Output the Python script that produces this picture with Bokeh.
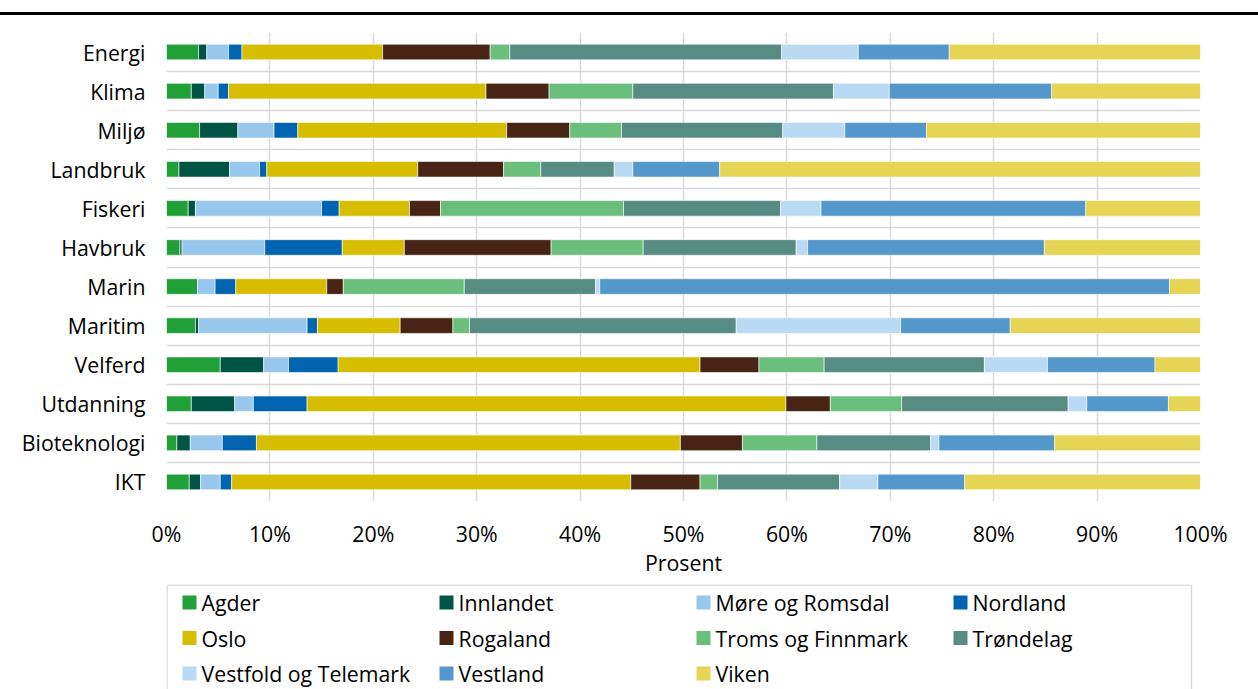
from bokeh.plotting import figure
from bokeh.models import ColumnDataSource, FixedTicker, Range1d, Div
from bokeh.layouts import column
from bokeh.core.properties import value
from bokeh.embed import file_html
from bokeh.resources import INLINE

categories = ["Energi", "Klima", "Miljø", "Landbruk", "Fiskeri", "Havbruk",
              "Marin", "Maritim", "Velferd", "Utdanning", "Bioteknologi", "IKT"]

regions = ["Agder", "Innlandet", "Møre og Romsdal", "Nordland", "Oslo", "Rogaland",
           "Troms og Finnmark", "Trøndelag", "Vestfold og Telemark", "Vestland", "Viken"]

colors = ["#21a038", "#005444", "#97c7ec", "#0064b0", "#d7bd00", "#482414",
          "#6bbf7d", "#568c82", "#b9daf2", "#5497cb", "#e6d454"]

# Share (%) per region, one list per category row
agder     = [3.1, 2.4, 3.2, 1.2, 2.1, 1.3, 3.0, 2.8, 5.2, 2.4, 1.0, 2.2]
innlandet = [0.8, 1.3, 3.7, 4.9, 0.7, 0.2, 0.0, 0.3, 4.2, 4.2, 1.3, 1.1]
more      = [2.1, 1.3, 3.5, 2.9, 12.2, 8.0, 1.7, 10.5, 2.4, 1.8, 3.1, 1.9]
nordland  = [1.3, 1.0, 2.3, 0.7, 1.7, 7.5, 2.0, 1.0, 4.8, 5.2, 3.3, 1.1]
oslo      = [13.6, 24.9, 20.2, 14.6, 6.8, 6.0, 8.8, 8.0, 35.0, 46.3, 41.0, 38.6]
rogaland  = [10.4, 6.1, 6.1, 8.3, 3.0, 14.2, 1.6, 5.1, 5.7, 4.3, 6.0, 6.7]
troms     = [1.9, 8.1, 5.0, 3.6, 17.7, 8.9, 11.7, 1.6, 6.3, 6.9, 7.2, 1.7]
trondelag = [26.3, 19.4, 15.6, 7.1, 15.2, 14.8, 12.7, 25.8, 15.5, 16.1, 11.0, 11.8]
vestfold  = [7.4, 5.4, 6.0, 1.8, 3.9, 1.1, 0.4, 15.9, 6.1, 1.8, 0.8, 3.7]
vestland  = [8.8, 15.7, 7.9, 8.4, 25.6, 22.9, 55.1, 10.6, 10.4, 7.9, 11.2, 8.4]
viken     = [24.3, 14.4, 26.5, 46.5, 11.1, 15.1, 3.0, 18.4, 4.4, 3.1, 14.1, 22.8]

x_ticks = [0, 10, 20, 30, 40, 50, 60, 70, 80, 90, 100]
x_tick_labels = ["0%", "10%", "20%", "30%", "40%", "50%", "60%", "70%", "80%", "90%", "100%"]

series = [agder, innlandet, more, nordland, oslo, rogaland, troms, trondelag, vestfold, vestland, viken]
data = {"y": list(range(len(categories)))}
for r, s in zip(regions, series):
    data[r] = s
source = ColumnDataSource(data)

FONT = "Open Sans"
FS = "21.3px"
BORDER_L, BORDER_R = 166, 58

# thick rule under the (cropped) figure title
rule = Div(text="", width=1258, height=3, margin=(12, 0, 0, 0),
           styles={"background-color": "black"})

p = figure(width=1258, height=565, output_backend="svg", toolbar_location=None,
           x_range=Range1d(0, 100), y_range=Range1d(len(categories) - 0.5, -0.5),
           min_border_left=BORDER_L, min_border_right=BORDER_R, min_border_top=17,
           min_border_bottom=79, margin=(0, 0, 0, 0))
p.outline_line_color = None

p.hbar_stack(regions, y="y", height=0.4, color=colors, source=source,
             line_color="white", line_width=0.6)

p.xaxis.ticker = FixedTicker(ticks=x_ticks)
p.xaxis.major_label_overrides = {t: l for t, l in zip(x_ticks, x_tick_labels)}
p.xaxis.axis_label = "Prosent"
p.yaxis.ticker = FixedTicker(ticks=list(range(len(categories))))
p.yaxis.major_label_overrides = {i: c for i, c in enumerate(categories)}
for ax in (p.xaxis[0], p.yaxis[0]):
    ax.axis_line_color = None
    ax.major_tick_line_color = None
    ax.minor_tick_line_color = None
    ax.major_tick_out = 0
    ax.major_tick_in = 0
    ax.major_label_text_font = FONT
    ax.major_label_text_font_size = FS
    ax.major_label_text_color = "#000000"
p.xaxis.major_label_standoff = 17
p.yaxis.major_label_standoff = 21
p.xaxis.axis_label_text_font = FONT
p.xaxis.axis_label_text_font_size = FS
p.xaxis.axis_label_text_font_style = "normal"
p.xaxis.axis_label_text_color = "#000000"
p.xaxis.axis_label_standoff = -3

p.xgrid.ticker = FixedTicker(ticks=x_ticks)
p.xgrid.grid_line_color = "#d9d9d9"
p.xgrid.grid_line_width = 1.5
p.ygrid.ticker = FixedTicker(ticks=[i - 0.5 for i in range(len(categories) + 1)])
p.ygrid.grid_line_color = "#d9d9d9"
p.ygrid.grid_line_width = 1.5

# legend panel (box with 4 columns x 3 rows); x in pixels from the box's left edge
LEG_W, LEG_H = 1028, 105
BOX_OFFSET = 3  # box left edge lies 3px left of the plot frame
col_x = [19, 276, 533, 790]
row_y = [18, 53.5, 89]
leg_x = [col_x[i % 4] for i in range(len(regions))]
leg_y = [row_y[i // 4] for i in range(len(regions))]
leg = ColumnDataSource({"x": [x + 7 for x in leg_x], "y": leg_y,
                        "tx": [x + 19 for x in leg_x],
                        "label": regions, "color": colors})

L = figure(width=1258, height=109, output_backend="svg", toolbar_location=None,
           x_range=Range1d(BOX_OFFSET, BOX_OFFSET + 1258 - BORDER_L - BORDER_R),
           y_range=Range1d(LEG_H, 0),
           x_axis_type=None, y_axis_type=None,
           min_border_left=BORDER_L, min_border_right=BORDER_R, min_border_top=4,
           min_border_bottom=0, margin=(0, 0, 0, 0))
L.xgrid.visible = False
L.ygrid.visible = False
L.outline_line_color = None
L.quad(left=[BOX_OFFSET + 0.5], right=[LEG_W], top=[0.5], bottom=[LEG_H + 5],
       fill_alpha=0, line_color="#d9d9d9", line_width=1.5)
L.rect(x="x", y="y", width=14, height=14, width_units="screen", height_units="screen",
       source=leg, fill_color="color", line_color=None)
L.text(x="tx", y="y", text="label", source=leg, text_font=value(FONT),
       text_font_size=value(FS), text_color="#000000", text_baseline="middle", text_align="left")

layout = column(rule, p, L, spacing=0)
open("out.html", "w").write(file_html(layout, INLINE))
